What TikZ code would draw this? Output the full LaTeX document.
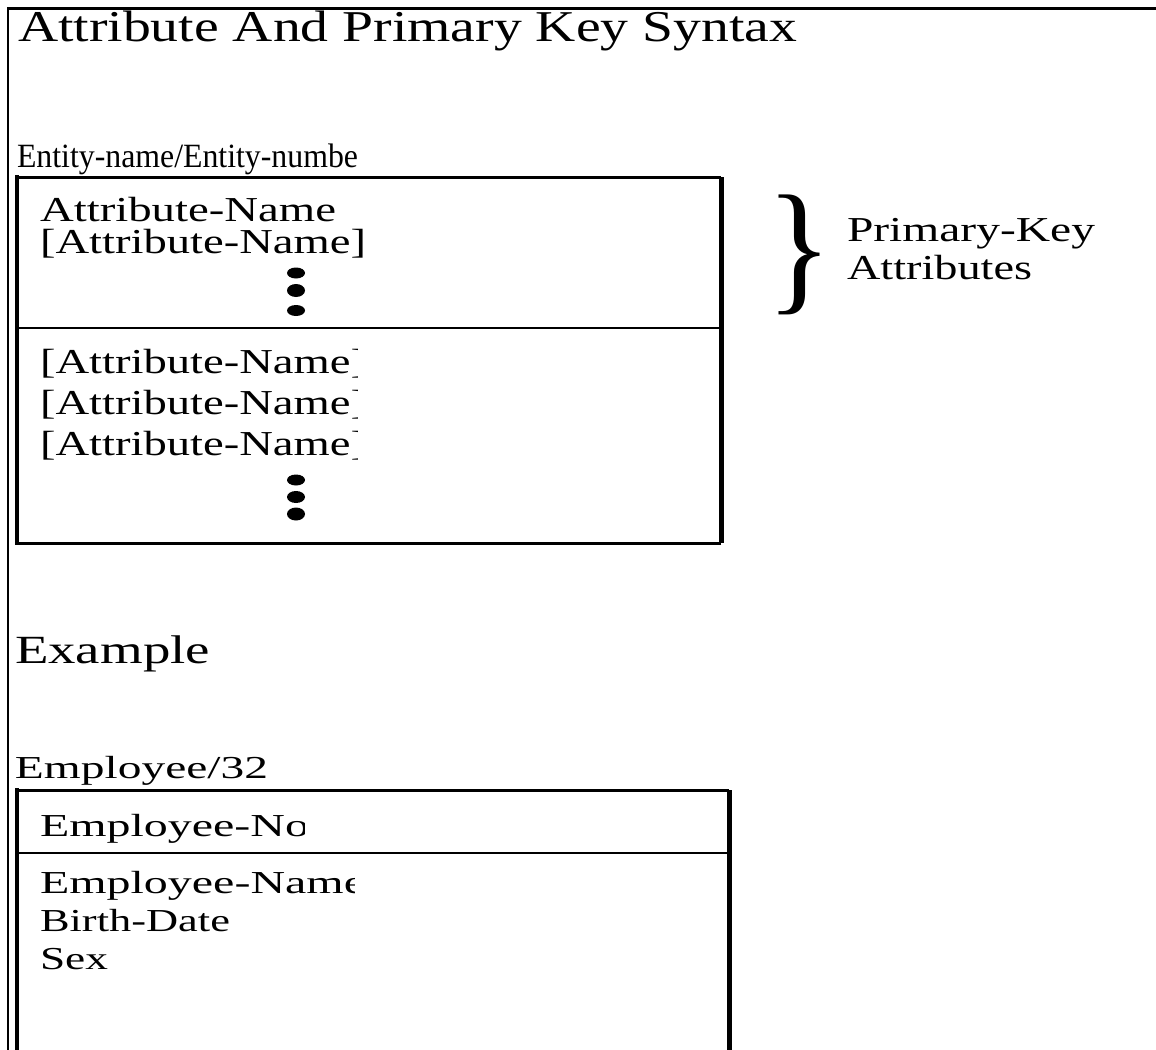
\documentclass[tikz,border=0pt]{standalone}
\usepackage{graphicx}
\usepackage{fontspec}
\setmainfont{Liberation Serif}
\usetikzlibrary{calc}

% text stretched to a given width at a given size
\newcommand{\wtext}[3]{\resizebox{#1pt}{\height}{\fontsize{#2}{#2}\selectfont #3}}

\tikzset{
  lbl/.style={anchor=base west, inner sep=0pt, outer sep=0pt},
  frameline/.style={line width=#1, line cap=rect},
  dotmark/.style={fill=black, draw=none}
}

\begin{document}
\begin{tikzpicture}[x=1pt, y=-1pt]
\useasboundingbox (0,0) rectangle (1156,1049);

% outer frame (top and left only)
\draw[frameline=3pt] (8,9) -- (1156,9);
\draw[frameline=2.5pt] (8,9) -- (8,1049);

% heading texts
\node[lbl] (title) at (18,42) {\wtext{779}{44}{Attribute And Primary Key Syntax}};
\node[lbl] (entname) at (17,167) {\wtext{341}{34}{Entity-name/Entity-numbe}};

% syntax entity box
\coordinate (b1tl) at (17,177);
\coordinate (b1br) at (721,543);
\coordinate (b1mid) at (17,328);
\draw[line width=3pt] (b1tl) -- (b1tl -| b1br);
\draw[line width=5pt] (b1tl -| b1br) -- (b1br);
\draw[line width=3pt] (b1br) -- (b1br -| b1tl);
\draw[line width=4pt, line cap=rect] (b1tl) -- (b1br -| b1tl);
\draw[line width=2.5pt] (b1mid) -- (b1mid -| b1br);

\node[lbl] (pk1) at (40,221) {\wtext{296}{35}{Attribute-Name}};
\node[lbl] (pk2) at (40,253) {\wtext{326}{35}{[Attribute-Name]}};
\fill[dotmark] (296,273) ellipse [x radius=9, y radius=5.5];
\fill[dotmark] (296,290.5) ellipse [x radius=9, y radius=6.5];
\fill[dotmark] (296,310.5) ellipse [x radius=9, y radius=5.5];

\begin{scope}
  \clip (20,330) rectangle (357,470);
  \node[lbl] (at1) at (40,373) {\wtext{326}{35}{[Attribute-Name]}};
  \node[lbl] (at2) at (40,414) {\wtext{326}{35}{[Attribute-Name]}};
  \node[lbl] (at3) at (40,455) {\wtext{326}{35}{[Attribute-Name]}};
\end{scope}
\fill[dotmark] (296,480) ellipse [x radius=9, y radius=5.5];
\fill[dotmark] (296,497) ellipse [x radius=9, y radius=6];
\fill[dotmark] (296,514) ellipse [x radius=9, y radius=6.5];

% brace and its label
\node[inner sep=0pt] (brace) at (799,255) {\resizebox*{66pt}{120pt}{\fontsize{40}{40}\selectfont\}}};
\node[lbl] (pkA) at (847,241) {\wtext{248}{35}{Primary-Key}};
\node[lbl] (pkB) at (847,279) {\wtext{185}{35}{Attributes}};

% example
\node[lbl] (example) at (15,663) {\wtext{195}{40}{Example}};
\node[lbl] (empname) at (15,778) {\wtext{253}{32}{Employee/32}};

\coordinate (b2tl) at (17,790);
\coordinate (b2br) at (729,1060);
\coordinate (b2mid) at (17,853);
\draw[line width=3pt] (b2tl) -- (b2tl -| b2br);
\draw[line width=5pt] (b2tl -| b2br) -- (b2br);
\draw[line width=4pt, line cap=rect] (b2tl) -- (b2br -| b2tl);
\draw[line width=2.5pt] (b2mid) -- (b2mid -| b2br);

\begin{scope}
  \clip (20,795) rectangle (304,850);
  \node[lbl] (empno) at (40,836) {\wtext{269}{32}{Employee-No}};
\end{scope}
\begin{scope}
  \clip (20,856) rectangle (354,905);
  \node[lbl] (empnm) at (40,893) {\wtext{325}{32}{Employee-Name}};
\end{scope}
\node[lbl] (birth) at (40,931) {\wtext{190}{32}{Birth-Date}};
\node[lbl] (sex) at (40,969) {\wtext{68}{32}{Sex}};
\end{tikzpicture}
\end{document}
